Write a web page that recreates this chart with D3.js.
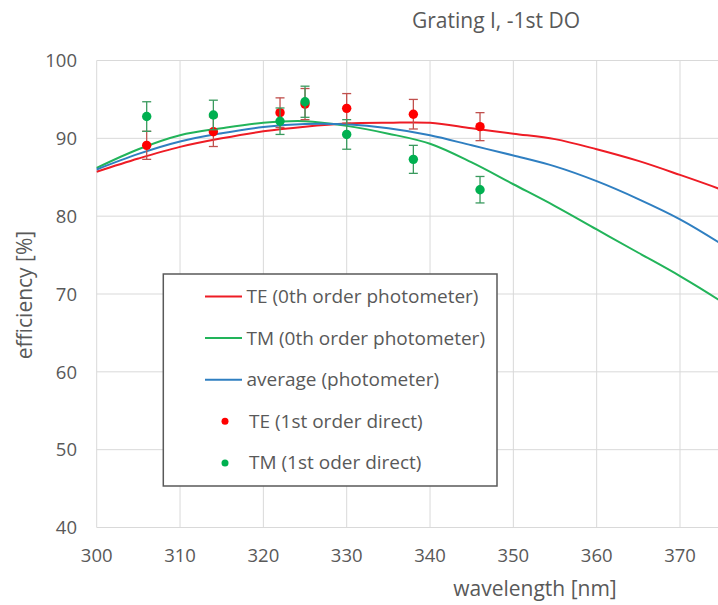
<!DOCTYPE html>
<html>
<head>
<meta charset="utf-8">
<script src="https://cdn.jsdelivr.net/npm/d3@7"></script>
<style>
  html, body { margin: 0; padding: 0; background: #fff; }
  text { font-family: "Open Sans", sans-serif; fill: #595959; }
</style>
</head>
<body>
<div id="chart"></div>
<script>
// photometer curves (0th order)
const wavelengths = [300, 305, 310, 315, 320, 325, 330, 335, 340, 345, 350, 355, 360, 365, 370, 375, 380];
const teLine  = [85.7, 87.4, 88.9, 90.0, 90.9, 91.5, 91.9, 92.0, 92.0, 91.3, 90.6, 89.9, 88.6, 87.1, 85.3, 83.4, 81.3];
const tmLine  = [86.2, 88.6, 90.4, 91.3, 92.0, 92.2, 91.6, 90.6, 89.3, 86.9, 84.1, 81.3, 78.3, 75.3, 72.3, 69.0, 65.3];
const avgLine = [86.0, 88.0, 89.6, 90.65, 91.45, 91.85, 91.8, 91.3, 90.4, 89.1, 87.8, 86.4, 84.5, 82.2, 79.6, 76.4, 72.8];

// direct 1st order measurements
const pointWl = [306, 314, 322, 325, 330, 338, 346];
const tePts = [89.1, 90.85, 93.3, 94.4, 93.85, 93.1, 91.5];
const teErr = [1.8, 1.9, 1.9, 2.0, 1.9, 1.9, 1.8];
const tmPts = [92.8, 93.0, 92.2, 94.7, 90.5, 87.3, 83.4];
const tmErr = [1.9, 1.9, 1.7, 2.0, 1.9, 1.8, 1.7];

const xTicks = [300, 310, 320, 330, 340, 350, 360, 370];
const yTicks = [40, 50, 60, 70, 80, 90, 100];

const legendItems = [
  {label: "TE (0th order photometer)", type: "line", color: "#ee1c25"},
  {label: "TM (0th order photometer)", type: "line", color: "#22b45a"},
  {label: "average (photometer)", type: "line", color: "#2f7fc1"},
  {label: "TE (1st order direct)", type: "dot", color: "#ff0000"},
  {label: "TM (1st oder direct)", type: "dot", color: "#00b050"}
];

const W = 718, H = 605;
const plotLeft = 96.7, plotTop = 60.5, plotBottom = 527.5;

const svg = d3.select("#chart").append("svg")
  .attr("width", W).attr("height", H);

// axis runs to 380 nm, the picture is cut at ~374.6 nm
const x = d3.scaleLinear().domain([300, 380]).range([plotLeft, plotLeft + 80 * 8.333]);
const y = d3.scaleLinear().domain([40, 100]).range([plotBottom, plotTop]);

// grid
svg.append("g").selectAll("line").data(yTicks).join("line")
  .attr("x1", plotLeft).attr("x2", W)
  .attr("y1", d => y(d)).attr("y2", d => y(d))
  .attr("stroke", "#d9d9d9").attr("stroke-width", 1);

svg.append("g").selectAll("line").data(xTicks).join("line")
  .attr("x1", d => x(d)).attr("x2", d => x(d))
  .attr("y1", plotTop).attr("y2", plotBottom)
  .attr("stroke", "#d9d9d9").attr("stroke-width", 1);

// tick labels
svg.append("g").selectAll("text").data(yTicks).join("text")
  .attr("x", 77).attr("y", d => y(d) + 6.8)
  .attr("text-anchor", "end")
  .style("font-size", "18.5px")
  .text(d => d);

svg.append("g").selectAll("text").data(xTicks).join("text")
  .attr("x", d => x(d)).attr("y", 561.5)
  .attr("text-anchor", "middle")
  .style("font-size", "18.5px")
  .text(d => d);

// axis titles
svg.append("text")
  .attr("x", 535).attr("y", 596)
  .attr("text-anchor", "middle")
  .style("font-size", "21px")
  .text("wavelength [nm]");

svg.append("text")
  .attr("transform", "translate(32,295) rotate(-90)")
  .attr("text-anchor", "middle")
  .style("font-size", "21px")
  .text("efficiency [%]");

svg.append("text")
  .attr("x", 496).attr("y", 28)
  .attr("text-anchor", "middle")
  .style("font-size", "21px")
  .text("Grating I, -1st DO");

// curves
const line = d3.line()
  .x(d => x(d[0]))
  .y(d => y(d[1]))
  .curve(d3.curveCatmullRom);

[[teLine, "#ee1c25"], [tmLine, "#22b45a"], [avgLine, "#2f7fc1"]].forEach(([vals, c]) => {
  svg.append("path")
    .datum(wavelengths.map((w, i) => [w, vals[i]]))
    .attr("d", line)
    .attr("fill", "none")
    .attr("stroke", c)
    .attr("stroke-width", 2);
});

// measured points with error bars
function drawPoints(vals, errs, fill, barColor) {
  const data = pointWl.map((w, i) => ({w, v: vals[i], e: errs[i]}));
  const g = svg.append("g");
  const bars = g.selectAll("g").data(data).join("g")
    .attr("stroke", barColor).attr("stroke-width", 1.3);
  bars.append("line")
    .attr("x1", d => x(d.w)).attr("x2", d => x(d.w))
    .attr("y1", d => y(d.v - d.e)).attr("y2", d => y(d.v + d.e));
  bars.append("line")
    .attr("x1", d => x(d.w) - 4.5).attr("x2", d => x(d.w) + 4.5)
    .attr("y1", d => y(d.v + d.e)).attr("y2", d => y(d.v + d.e));
  bars.append("line")
    .attr("x1", d => x(d.w) - 4.5).attr("x2", d => x(d.w) + 4.5)
    .attr("y1", d => y(d.v - d.e)).attr("y2", d => y(d.v - d.e));
  g.selectAll("circle").data(data).join("circle")
    .attr("cx", d => x(d.w)).attr("cy", d => y(d.v))
    .attr("r", 4.7)
    .attr("fill", fill);
}

drawPoints(tePts, teErr, "#ff0000", "#c0504d");
drawPoints(tmPts, tmErr, "#00b050", "#3a9a5e");

// legend
const lg = svg.append("g");
lg.append("rect")
  .attr("x", 163.3).attr("y", 274)
  .attr("width", 497 - 163.3).attr("height", 486 - 274)
  .attr("fill", "#fff")
  .attr("stroke", "#595959").attr("stroke-width", 1.5);

const rows = lg.selectAll("g").data(legendItems).join("g")
  .attr("transform", (d, i) => `translate(0,${296.5 + i * 41.6})`);

rows.filter(d => d.type === "line").append("line")
  .attr("x1", 205).attr("x2", 242)
  .attr("stroke", d => d.color).attr("stroke-width", 2);

rows.filter(d => d.type === "dot").append("circle")
  .attr("cx", 225).attr("r", 3.5)
  .attr("fill", d => d.color);

rows.append("text")
  .attr("x", d => d.type === "line" ? 246.5 : 249)
  .attr("y", 6.5)
  .style("font-size", "19px")
  .text(d => d.label);
</script>
</body>
</html>
